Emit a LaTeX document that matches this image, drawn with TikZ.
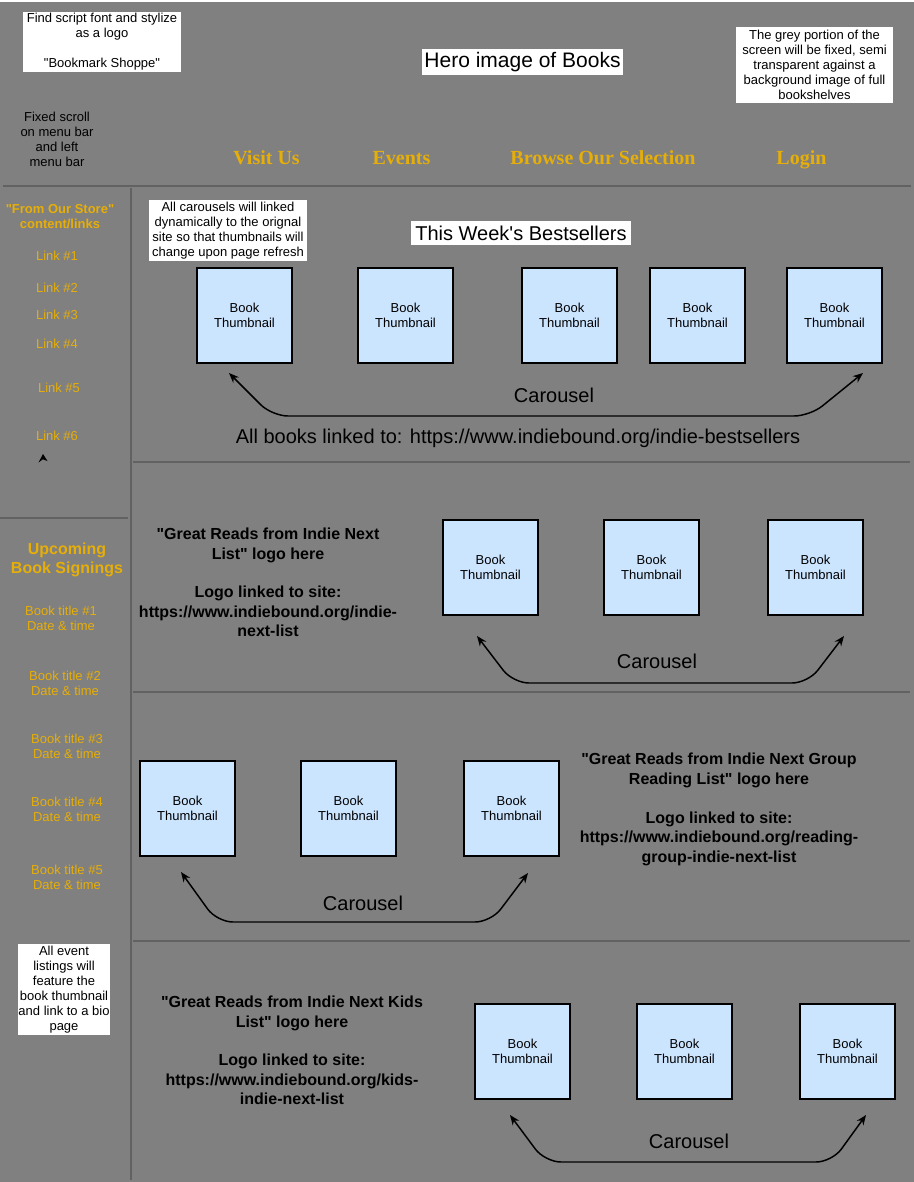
\documentclass[tikz,border=0pt]{standalone}
\usepackage{fontspec}
\setmainfont{Liberation Sans}
\newfontfamily\navfont{Liberation Serif}
\usetikzlibrary{arrows.meta}
\definecolor{pagegrey}{RGB}{128,128,128}
\definecolor{rulegrey}{RGB}{98,98,98}
\definecolor{navgold}{RGB}{230,174,8}
\definecolor{thumbblue}{RGB}{204,229,255}
\newcommand{\dq}{\textquotedbl}

\begin{document}
\begin{tikzpicture}[x=0.75pt,y=0.75pt,yscale=-1,xscale=1,
  note/.style={fill=white,inner sep=0pt,align=center,font=\fontsize{9.75}{11.25}\selectfont},
  thumb/.style={draw=black,line width=1.1pt,fill=thumbblue,minimum width=71.25pt,minimum height=71.25pt,inner sep=0pt,align=center,font=\fontsize{9.75}{11.25}\selectfont},
  navlink/.style={anchor=base,text=navgold,font=\navfont\bfseries\fontsize{15}{18}\selectfont},
  sidetext/.style={text=navgold,align=center,font=\fontsize{9.75}{11.25}\selectfont},
  sidehead/.style={text=navgold,align=center,font=\bfseries\fontsize{9.75}{11.25}\selectfont},
  bigtext/.style={font=\fontsize{15}{18}\selectfont},
  logotext/.style={align=center,font=\bfseries\fontsize{12}{14.6}\selectfont},
  divider/.style={draw=rulegrey,line width=1.5pt},
  carousel/.style={line width=1.1pt,rounded corners=12pt,{Stealth[length=7.5pt,width=6pt]}-{Stealth[length=7.5pt,width=6pt]}}]
\useasboundingbox (0,0) rectangle (914,1182);
%Page background
\fill [pagegrey] (0,2) rectangle (914,1182);
%Straight Lines
\draw [divider] (3,186) -- (911,186);
\draw [divider] (131,188) -- (131,1180);
\draw [divider] (133,462) -- (910,462);
\draw [divider] (0,518) -- (128,518);
\draw [divider] (133,692) -- (910,692);
\draw [divider] (133,941) -- (910,941);

% Header notes
\draw (102,41.5) node [note,minimum width=118.5pt,minimum height=45pt] (logonote) {Find script font and stylize\\as a logo\\[\baselineskip]\dq Bookmark Shoppe\dq};
\draw (57,139) node [sidetext,text=black] (scrollnote) {Fixed scroll\\on menu bar\\and left\\menu bar};
\draw (522.5,62) node [note,minimum width=150.75pt,minimum height=19.5pt,font=\fontsize{15.75}{18}\selectfont] (hero) {Hero image of Books};
\draw (814.5,65) node [note,minimum width=117.75pt,minimum height=57pt] (greynote) {The grey portion of the\\screen will be fixed, semi\\transparent against a\\background image of full\\bookshelves};

% Menu bar
\draw (266.5,164.5) node [navlink] (visit) {Visit Us};
\draw (401.5,164.5) node [navlink] (events) {Events};
\draw (603,164.5) node [navlink] (browse) {Browse Our Selection};
\draw (801.5,164.5) node [navlink] (login) {Login};

% Left menu bar
\draw (60,216.5) node [sidehead] (storehead) {\dq From Our Store\dq\\content/links};
\draw (57,256) node [sidetext] (link1) {Link \#1};
\draw (57,288) node [sidetext] (link2) {Link \#2};
\draw (57,315) node [sidetext] (link3) {Link \#3};
\draw (57,344) node [sidetext] (link4) {Link \#4};
\draw (59,388) node [sidetext] (link5) {Link \#5};
\draw (57,436) node [sidetext] (link6) {Link \#6};
\fill (38.5,462.5) -- (43,454) -- (47.5,461) -- (42.8,459.3) -- cycle;
\draw (67,559.5) node [sidehead,font=\bfseries\fontsize{12}{14.25}\selectfont] (signhead) {Upcoming\\Book Signings};
\draw (61,618.5) node [sidetext] (title1) {Book title \#1\\Date \& time};
\draw (65,683.5) node [sidetext] (title2) {Book title \#2\\Date \& time};
\draw (67,746.5) node [sidetext] (title3) {Book title \#3\\Date \& time};
\draw (67,809.5) node [sidetext] (title4) {Book title \#4\\Date \& time};
\draw (67,877.5) node [sidetext] (title5) {Book title \#5\\Date \& time};
\draw (64,989.5) node [note,minimum width=69pt,minimum height=68.25pt] (eventnote) {All event\\listings will\\feature the\\book thumbnail\\and link to a bio\\page};

% This Week's Bestsellers
\draw (228,230.5) node [note,minimum width=118.5pt,minimum height=45.75pt] (dynnote) {All carousels will linked\\dynamically to the orignal\\site so that thumbnails will\\change upon page refresh};
\draw (521,233) node [note,minimum width=165pt,minimum height=18pt,font=\fontsize{15}{18}\selectfont] (bestsellers) {This Week\textquotesingle s Bestsellers};
\draw (244.5,315.5) node [thumb] (best1) {Book\\Thumbnail};
\draw (405.5,315.5) node [thumb] (best2) {Book\\Thumbnail};
\draw (569.5,315.5) node [thumb] (best3) {Book\\Thumbnail};
\draw (697.5,315.5) node [thumb] (best4) {Book\\Thumbnail};
\draw (834.5,315.5) node [thumb] (best5) {Book\\Thumbnail};
\coordinate (bestL) at (229,373);
\coordinate (bestR) at (863,373);
\draw [carousel] (bestL) -- (272,416) -- (810,416) -- (bestR);
\draw (554,395) node [bigtext] (bestcar) {Carousel};
\draw (518,438) node [bigtext] (bestlink) {All books linked to: https://www.indiebound.org/indie-bestsellers};

% Indie Next List
\draw (268,582.5) node [logotext] (nextlogo) {\dq Great Reads from Indie Next\\List\dq{} logo here\\[\baselineskip]Logo linked to site:\\https://www.indiebound.org/indie-\\next-list};
\draw (490.5,567.5) node [thumb] (next1) {Book\\Thumbnail};
\draw (651.5,567.5) node [thumb] (next2) {Book\\Thumbnail};
\draw (815.5,567.5) node [thumb] (next3) {Book\\Thumbnail};
\coordinate (nextL) at (477,636);
\coordinate (nextR) at (844,636);
\draw [carousel] (nextL) -- (513,683) -- (808,683) -- (nextR);
\draw (657,661) node [bigtext] (nextcar) {Carousel};

% Indie Next Group Reading List
\draw (187.5,808.5) node [thumb] (group1) {Book\\Thumbnail};
\draw (348.5,808.5) node [thumb] (group2) {Book\\Thumbnail};
\draw (511.5,808.5) node [thumb] (group3) {Book\\Thumbnail};
\coordinate (groupL) at (181,872);
\coordinate (groupR) at (528,873);
\draw [carousel] (groupL) -- (217,922) -- (491,922) -- (groupR);
\draw (363,903) node [bigtext] (groupcar) {Carousel};
\draw (719,809.5) node [logotext] (grouplogo) {\dq Great Reads from Indie Next Group\\Reading List\dq{} logo here\\[\baselineskip]Logo linked to site:\\https://www.indiebound.org/reading-\\group-indie-next-list};

% Indie Next Kids List
\draw (292,1050.5) node [logotext] (kidslogo) {\dq Great Reads from Indie Next Kids\\List\dq{} logo here\\[\baselineskip]Logo linked to site:\\https://www.indiebound.org/kids-\\indie-next-list};
\draw (522.5,1051.5) node [thumb] (kids1) {Book\\Thumbnail};
\draw (684.5,1051.5) node [thumb] (kids2) {Book\\Thumbnail};
\draw (847.5,1051.5) node [thumb] (kids3) {Book\\Thumbnail};
\coordinate (kidsL) at (510,1115);
\coordinate (kidsR) at (866,1115);
\draw [carousel] (kidsL) -- (545,1162) -- (832,1162) -- (kidsR);
\draw (689,1141) node [bigtext] (kidscar) {Carousel};
\end{tikzpicture}
\end{document}
